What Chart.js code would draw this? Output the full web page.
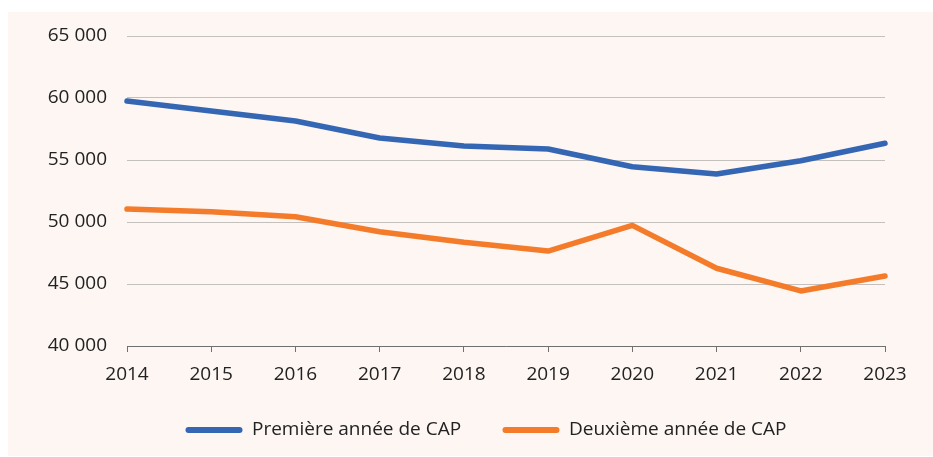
<!DOCTYPE html>
<html>
<head>
<meta charset="utf-8">
<script src="https://cdn.jsdelivr.net/npm/chart.js@4"></script>
<style>
  html, body { margin: 0; padding: 0; background: #fff; overflow: hidden; }
  #panel { position: absolute; left: 8px; top: 12px; width: 925px; height: 444px; background: #fdf6f3; }
  #wrap { position: absolute; left: 0; top: 0; width: 933px; height: 457px; }
</style>
</head>
<body>
<div id="panel"></div>
<div id="wrap"><canvas id="cap-chart"></canvas></div>
<script>
// data
const years = ['2014', '2015', '2016', '2017', '2018', '2019', '2020', '2021', '2022', '2023'];
const premiere = [59750, 58950, 58150, 56770, 56130, 55890, 54460, 53870, 54940, 56350];
const deuxieme = [51050, 50830, 50430, 49220, 48360, 47660, 49730, 46270, 44440, 45650];
const seriesNames = ['Première année de CAP', 'Deuxième année de CAP'];

const blue = '#3466b4';
const orange = '#f47b2a';
const font = "'Open Sans', sans-serif";

function fmt(v) {
  return String(v).replace(/\B(?=(\d{3})+(?!\d))/g, ' ');
}

function lineSet(label, data, color) {
  return {
    label: label,
    data: data,
    borderColor: color,
    backgroundColor: color,
    borderWidth: 5.5,
    borderCapStyle: 'round',
    borderJoinStyle: 'round',
    pointRadius: 0,
    pointHoverRadius: 0,
    tension: 0,
    clip: false
  };
}

const capCanvas = document.getElementById('cap-chart');

let capChart = new Chart(capCanvas, {
  type: 'line',
  data: {
    labels: years,
    datasets: [
      lineSet(seriesNames[0], premiere, blue),
      lineSet(seriesNames[1], deuxieme, orange)
    ]
  },
  options: {
    responsive: true,
    maintainAspectRatio: false,
    animation: false,
    layout: {
      padding: { left: 39, right: 0, top: 36, bottom: 7.5 }
    },
    scales: {
      x: {
        offset: false,
        grid: { drawOnChartArea: false, drawTicks: true, tickLength: 6, color: '#707070' },
        border: { display: true, color: '#707070', width: 1 },
        ticks: { color: '#222', padding: 11.5, font: { family: font, size: 19 }, maxRotation: 0 },
        afterFit: function (scale) { scale.height = 38; }
      },
      y: {
        min: 40000,
        max: 65000,
        grid: { color: '#c4c0bd', drawTicks: false },
        border: { display: false },
        ticks: {
          stepSize: 5000,
          padding: 20,
          color: '#222',
          font: { family: font, size: 19 },
          callback: function (v) { return fmt(v); }
        },
        afterFit: function (scale) { scale.width = 88; }
      },
      // empty strip on the right so the legend sits where it does in the picture
      yRight: {
        position: 'right',
        grid: { drawOnChartArea: false, drawTicks: false },
        border: { display: false },
        ticks: { display: false },
        afterFit: function (scale) { scale.width = 48; }
      }
    },
    plugins: {
      tooltip: { enabled: false },
      legend: {
        position: 'bottom',
        labels: {
          boxWidth: 57,
          boxHeight: 6,
          useBorderRadius: true,
          borderRadius: 3,
          padding: 36.5,
          color: '#222',
          font: { family: font, size: 19 },
          generateLabels: function (chart) {
            const items = Chart.defaults.plugins.legend.labels.generateLabels(chart);
            items.forEach(function (it) { it.lineWidth = 0; });
            items[0].text += ' ';
            return items;
          }
        }
      }
    }
  }
});
</script>
</body>
</html>
